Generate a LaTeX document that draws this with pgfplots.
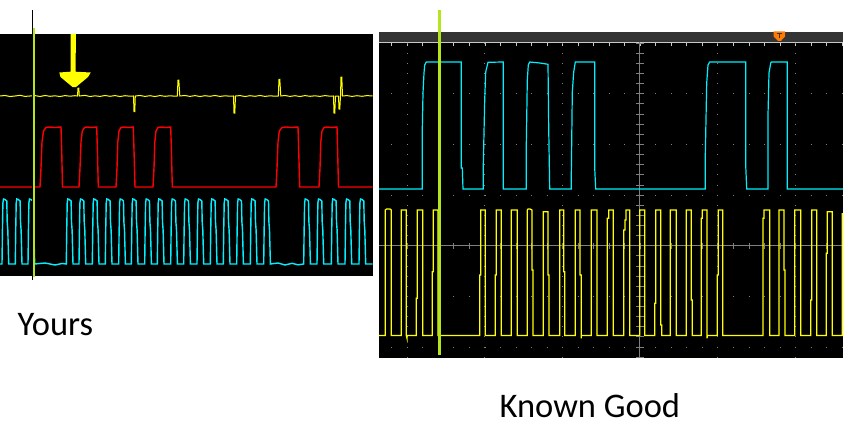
\documentclass[border=0pt]{standalone}
\usepackage{pgfplots}
\pgfplotsset{compat=1.18}
\usepackage{fontspec}
\setmainfont{Carlito}
\definecolor{scopeY}{RGB}{255,255,0}
\definecolor{scopeC}{RGB}{0,240,255}
\definecolor{scopeR}{RGB}{255,0,0}
\definecolor{cursor}{RGB}{181,230,29}
\definecolor{barg}{RGB}{52,52,52}
\definecolor{gridg}{RGB}{128,128,128}
\definecolor{borderg}{RGB}{200,200,200}
\definecolor{trig}{RGB}{255,122,0}
\begin{document}
\begin{tikzpicture}
\useasboundingbox (0,0) rectangle (851pt,428pt);
\begin{axis}[at={(0,0)}, anchor=south west, scale only axis,
  width=851pt, height=428pt, xmin=0, xmax=851, ymin=0, ymax=428,
  y dir=reverse, hide axis]
% ---------- panels ----------
\fill[black] (0,34) rectangle (372.7,276);
\fill[black] (379,42) rectangle (843,358);
\fill[barg] (379,32) rectangle (843,42);
\draw[borderg, line width=0.9pt] (379,42.2) -- (843,42.2);
\draw[borderg, line width=3pt, dash pattern=on 0.9pt off 14.63pt] (391.35,44.5) -- (843,44.5);
% ---------- right grid ----------
\foreach \gx in {407.3,484.7,562.3,717.3,795.3}{
  \edef\temp{\noexpand\draw[gridg, line width=0.9pt, dash pattern=on 0.9pt off 9.23pt] (\gx,42.7) -- (\gx,358);}\temp}
\foreach \gy in {93.7,144.3,195,296.3,347}{
  \edef\temp{\noexpand\draw[gridg, line width=0.9pt, dash pattern=on 0.9pt off 14.63pt] (391.35,\gy) -- (843,\gy);}\temp}
\draw[gridg, line width=0.9pt] (379,245.7) -- (843,245.7);
\draw[gridg, line width=0.9pt] (639.7,42) -- (639.7,358);
\draw[gridg, line width=6pt, dash pattern=on 0.9pt off 14.63pt] (391.35,245.7) -- (843,245.7);
\draw[gridg, line width=8pt, dash pattern=on 0.9pt off 9.23pt] (639.7,42.7) -- (639.7,358);
% ---------- trigger marker ----------
\fill[trig] (773.5,31.5) -- (785,31.5) -- (785,36.5) -- (781,40.8) -- (778,40.8) -- (773.5,36.5) -- cycle;
\draw[barg, line width=1pt] (776.5,33.5) -- (782,33.5) (779.3,33.5) -- (779.3,38.5);
% ---------- left: yellow trace ----------
\addplot[scopeY, line width=1pt] coordinates {
(0,96)(5,95.5)(10,96.5)(15,96)(20,95.3)(25,96.4)(30,96)(35,95.6)(40,96.5)(45,95.5)(50,96.3)(55,95.8)(60,96.5)(65,95.6)(70,96.2)(75,95.7)
(77.5,96)(78,88)(78.8,88)(79.3,96)
(85,95.4)(90,96.5)(95,95.8)(100,96.4)(105,95.5)(110,96.3)(115,95.6)(120,96.5)(125,95.7)(130,96.2)
(133.5,96)(134,111.5)(134.8,111.5)(135.3,96)
(140,95.5)(145,96.4)(150,95.7)(155,96.5)(160,95.6)(165,96.3)(170,95.8)(175,96.2)
(177.3,96)(178,80)(178.8,80)(179.8,96)
(185,95.5)(190,96.4)(195,95.6)(200,96.5)(205,95.7)(210,96.3)(215,95.5)(220,96.4)(225,95.8)(230,96.2)
(233.5,96)(234,113)(234.8,113)(235.5,96)
(240,95.6)(245,96.5)(250,95.7)(255,96.3)(260,95.5)(265,96.4)(270,95.8)(275,96.2)
(278.3,96)(279,79.3)(279.8,79.3)(280.8,96)
(285,95.5)(290,96.4)(295,95.7)(300,96.5)(305,95.6)(310,96.3)(315,95.8)(320,96.4)(325,95.6)(330,96.2)
(333.5,96)(334,113)(334.8,113)(335.5,96)(338.5,96)(339,109)(339.8,109)(340.5,96)(341,77)(341.8,77)(342.5,96)
(347,95.6)(352,96.4)(357,95.7)(362,96.3)(367,95.6)(372.7,96)};
% ---------- left: red trace ----------
\addplot[scopeR, line width=1.4pt] coordinates {
(0,187)(40,187)(41,168)(42,142)(43.5,131)(46,127.5)(49,127)(55,127.5)(61,127)(61.7,150)(62.5,187)
(79,187)(80,168)(81,142)(82.3,131)(84.5,127.5)(87,127)(92,127.5)(96.7,127)(97.4,150)(98.3,187)
(116,187)(117,168)(117.8,142)(119,131)(121,127.5)(124,127)(129,127.5)(133.3,127)(134,150)(135,187)
(153,187)(154,168)(154.8,142)(156,131)(158,127.5)(161,127)(166,127.5)(170.7,127)(171.4,150)(172.3,187)
(276,187)(277,168)(278,142)(279.3,131)(282,127.5)(286,127)(292,127.5)(298,127)(298.7,150)(299.7,187)
(319,187)(320,168)(320.8,142)(322,131)(324,127.5)(327,127)(332,127.5)(337,127)(337.6,150)(338.5,187)
(372.7,187)};
% ---------- left: cyan trace ----------
\addplot[scopeC, line width=1.4pt] coordinates {
(0,264)
(2,264)(2.4,232)(2.9,203)(3.5,199)(5,199.5)(6.8,201)(7.2,222)(7.8,230)(8.7,264)
(15.3,264)(15.7,232)(16.2,203)(16.8,199)(18.3,199.5)(20.1,201)(20.5,222)(21.1,230)(22,264)
(28,264)(28.4,232)(28.9,203)(29.5,199)(31,199.5)(32.8,201)(33.2,222)(33.8,230)(34.7,264)
(45,263)(55,265)(62,263.5)
(66.3,264)(66.7,232)(67.2,203)(67.8,199)(69.3,199.5)(71.1,201)(71.5,222)(72.1,230)(73,264)
(79,264)(79.4,232)(79.9,203)(80.5,199)(82,199.5)(83.8,201)(84.2,222)(84.8,230)(85.7,264)
(92.3,264)(92.7,232)(93.2,203)(93.8,199)(95.3,199.5)(97.1,201)(97.5,222)(98.1,230)(99,264)
(105.3,264)(105.7,232)(106.2,203)(106.8,199)(108.3,199.5)(110.1,201)(110.5,222)(111.1,230)(112,264)
(118.7,264)(119.1,232)(119.6,203)(120.2,199)(121.7,199.5)(123.5,201)(123.9,222)(124.5,230)(125.4,264)
(131.3,264)(131.7,232)(132.2,203)(132.8,199)(134.3,199.5)(136.1,201)(136.5,222)(137.1,230)(138,264)
(144.7,264)(145.1,232)(145.6,203)(146.2,199)(147.7,199.5)(149.5,201)(149.9,222)(150.5,230)(151.4,264)
(157.3,264)(157.7,232)(158.2,203)(158.8,199)(160.3,199.5)(162.1,201)(162.5,222)(163.1,230)(164,264)
(170.7,264)(171.1,232)(171.6,203)(172.2,199)(173.7,199.5)(175.5,201)(175.9,222)(176.5,230)(177.4,264)
(183.7,264)(184.1,232)(184.6,203)(185.2,199)(186.7,199.5)(188.5,201)(188.9,222)(189.5,230)(190.4,264)
(197,264)(197.4,232)(197.9,203)(198.5,199)(200,199.5)(201.8,201)(202.2,222)(202.8,230)(203.7,264)
(210.3,264)(210.7,232)(211.2,203)(211.8,199)(213.3,199.5)(215.1,201)(215.5,222)(216.1,230)(217,264)
(223.3,264)(223.7,232)(224.2,203)(224.8,199)(226.3,199.5)(228.1,201)(228.5,222)(229.1,230)(230,264)
(236.7,264)(237.1,232)(237.6,203)(238.2,199)(239.7,199.5)(241.5,201)(241.9,222)(242.5,230)(243.4,264)
(250.3,264)(250.7,232)(251.2,203)(251.8,199)(253.3,199.5)(255.1,201)(255.5,222)(256.1,230)(257,264)
(263.7,264)(264.1,232)(264.6,203)(265.2,199)(266.7,199.5)(268.5,201)(268.9,222)(269.5,230)(270.4,264)
(278,263)(285,265)(292,263.3)(298,264.8)
(303.7,264)(304.1,232)(304.6,203)(305.2,199)(306.7,199.5)(308.5,201)(308.9,222)(309.5,230)(310.4,264)
(317,264)(317.4,232)(317.9,203)(318.5,199)(320,199.5)(321.8,201)(322.2,222)(322.8,230)(323.7,264)
(331.3,264)(331.7,232)(332.2,203)(332.8,199)(334.3,199.5)(336.1,201)(336.5,222)(337.1,230)(338,264)
(345,264)(345.4,232)(345.9,203)(346.5,199)(348,199.5)(349.8,201)(350.2,222)(350.8,230)(351.7,264)
(359,264)(359.4,232)(359.9,203)(360.5,199)(362,199.5)(363.8,201)(364.2,222)(364.8,230)(365.7,264)
(372.7,264)};
% ---------- right: cyan trace ----------
\addplot[scopeC, line width=1.2pt] coordinates {
(379,189)(422.3,189)(422.3,128)(423,93)(424,73)(424.7,65)(426.3,62)(461.3,62)(461.3,168)(462.3,168)(463,189)
(483.3,189)(483.3,165)(484.7,100)(485.7,72)(488,62.3)(503.3,62)(503.3,189)
(526.3,189)(526.3,144)(527.3,80)(528.3,65)(529.7,62)(540,63)(548,64.3)(548.7,128)(549.7,189)
(571.3,189)(571.3,175)(572.3,92)(573.7,72)(575.3,62)(594.7,62)(594.7,168)(595.7,189)
(705.3,189)(705.3,155)(706.7,83)(708,65)(709.7,62)(745.7,62)(745.7,165)(746.7,189)
(768,189)(768,115)(769,73)(770.7,63)(771.3,62)(787.3,62)(787.3,189)(843,189)};
% ---------- right: yellow trace ----------
\addplot[scopeY, line width=1.2pt] coordinates {
(379,335.5)(385.3,335.5)(385.3,210)(386.5,209)(390,209)(391.3,210)(391.3,335.5)
(401.3,335.5)(401.3,210)(406.3,210)(406.3,335.5)(407,338.3)(407,335.5)
(416.3,335.5)(416.3,298.3)(417.3,298.3)(417.3,210)(422.7,210)(422.7,335.5)
(432.3,335.5)(432.3,271.7)(433.3,271.7)(433.3,210)(438,210)(438,335.5)
(479.7,335.5)(479.7,275)(480.7,275)(480.7,210)(485.3,210)(485.3,335.5)
(495.3,335.5)(495.3,275)(496.3,275)(496.3,210)(501.3,210)(501.3,335.5)
(511.3,335.5)(511.3,210)(517.3,210)(517.3,335.5)
(527.3,335.5)(527.3,210)(528,209)(530,209)(532,210)(532,270)(533,270)(533,335.5)
(543.3,335.5)(543.3,211.7)(548,211.7)(548,275)(549,275)(549,335.5)
(559.7,335.5)(559.7,210)(563.7,210)(563.7,271.7)(564.7,271.7)(564.7,335.5)
(575.3,335.5)(575.3,210)(580,210)(580,275)(581.3,275)(581.3,338.3)(581.3,335.5)
(591.3,335.5)(591.3,210)(597,210)(597,335.5)
(607.3,335.5)(607.3,218.3)(608.7,218.3)(608.7,210)(613.3,210)(613.3,335.5)
(623.7,335.5)(623.7,230)(625,230)(625,220)(626,220)(626,210)(629.7,210)(629.7,335.5)
(639.7,335.5)(639.7,210)(644.7,210)(644.7,335.5)
(654.7,335.5)(654.7,303.3)(655.7,303.3)(655.7,210)(660.7,210)(660.7,325)(661.7,325)(661.7,335.5)
(670.3,335.5)(670.3,210)(676.3,210)(676.3,335.5)
(686.3,335.5)(686.3,210)(691.3,210)(691.3,300)(692.3,300)(692.3,335.5)
(701.3,335.5)(701.3,218.3)(702.3,218.3)(702.3,210)(707,210)(707,338.3)(707.5,335.5)
(717.3,335.5)(717.3,275)(718.3,275)(718.3,210)(722.7,210)(722.7,335.5)
(763,335.5)(763,218.3)(764,218.3)(764,210)(769.7,210)(769.7,335.5)
(779,335.5)(779,210)(784,210)(784,270)(785,270)(785,335.5)
(794.7,335.5)(794.7,210)(800.7,210)(800.7,335.5)
(810.7,335.5)(810.7,300)(811.7,300)(811.7,210)(816.7,210)(816.7,335.5)
(826.3,335.5)(826.3,253.3)(827.3,253.3)(827.3,211.7)(832.3,211.7)(832.3,335.5)
(842.3,335.5)(842.3,213)};
% ---------- annotations ----------
\fill[scopeY] (70.7,34) -- (76,34) -- (75.5,71.7) -- (90.7,72.5) -- (88,77) -- (76,87) -- (72.5,87) -- (60.5,77) -- (59.3,72.5) -- (70.7,71.7) -- cycle;
\draw[black, line width=0.9pt] (32.5,10) -- (32.5,280);
\draw[cursor, line width=2.2pt] (34.2,28) -- (34.2,277);
\draw[cursor, line width=3.2pt] (439.3,10) -- (439.3,355);
\node[anchor=base west, inner sep=0pt, font=\fontsize{34.5}{40}\selectfont] at (17.5,335.7) {Yours};
\node[anchor=base west, inner sep=0pt, font=\fontsize{34.5}{40}\selectfont] at (499.5,417.3) {Known Good};
\end{axis}
\end{tikzpicture}
\end{document}
